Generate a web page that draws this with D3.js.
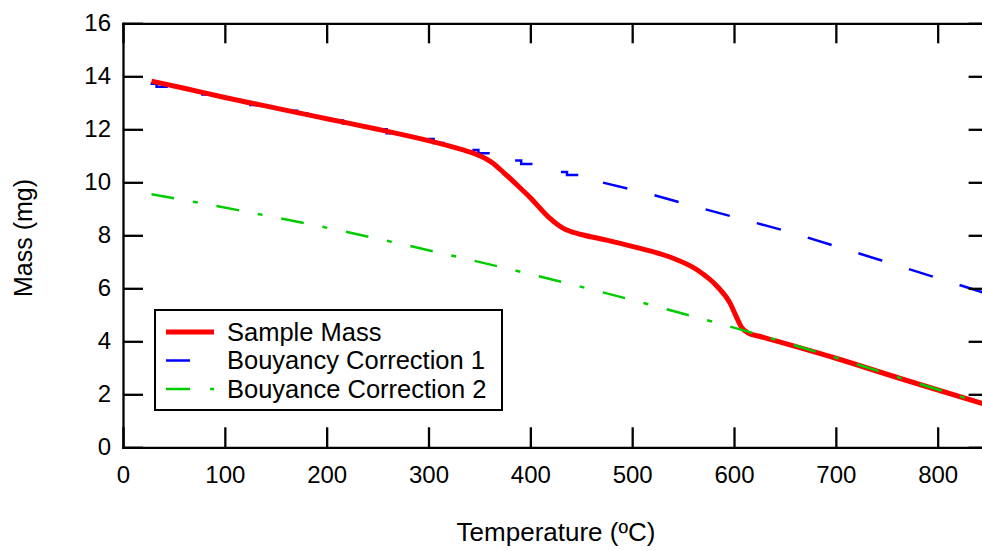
<!DOCTYPE html>
<html lang="en">
<head>
    <meta charset="UTF-8">
    <title>Mass vs Temperature</title>
    <script src="https://d3js.org/d3.v7.min.js"></script>
    <style>
        body {margin: 0; background: white;}
        text {font-family: "Liberation Sans", Arial, sans-serif;}
    </style>
</head>
<body>
<script>
    const width = 982;
    const height = 551;

    // data: [temperature (C), mass (mg)]
    const sampleMass = [
        [28, 13.82], [60, 13.55], [100, 13.2], [150, 12.8], [200, 12.4], [250, 12.0],
        [300, 11.57], [334, 11.22], [344, 11.1], [352, 10.97], [361, 10.78], [374, 10.36],
        [387, 9.9], [400, 9.42], [419, 8.65], [432, 8.27], [450, 8.03], [475, 7.82],
        [501, 7.57], [537, 7.18], [564, 6.69], [584, 6.05], [596, 5.45], [602, 4.95],
        [607, 4.55], [614, 4.31], [625, 4.19], [700, 3.36], [768, 2.54], [845, 1.64]
    ];
    // correction 1 is quantised at low temperature: [temperature, level before, level after]
    const blueSteps = [
        [33, 13.72, 13.61], [78, 13.40, 13.31], [125, 13.03, 12.92], [171, 12.70, 12.60],
        [216, 12.33, 12.22], [259, 12.0, 11.85], [305, 11.63, 11.48], [349, 11.22, 11.10],
        [391, 10.82, 10.69], [436, 10.39, 10.28]
    ];
    const blueSmooth = [
        [470, 10.0], [520, 9.53], [570, 9.0], [655, 8.12], [745, 7.05], [845, 5.84]
    ];
    const correction2 = [
        [28, 9.55], [113, 8.95], [218, 8.14], [303, 7.41], [408, 6.46], [557, 4.97],
        [625, 4.24], [700, 3.38], [768, 2.56], [845, 1.65]
    ];

    const xTicks = [0, 100, 200, 300, 400, 500, 600, 700, 800];
    const yTicks = [0, 2, 4, 6, 8, 10, 12, 14, 16];
    const legendNames = ["Sample Mass", "Bouyancy Correction 1", "Bouyance Correction 2"];

    const x = d3.scaleLinear().domain([0, 850]).range([123, 988.6]);
    const y = d3.scaleLinear().domain([0, 16]).range([447.3, 23.3]);

    const svg = d3.select("body").append("svg")
            .attr("width", width).attr("height", height);

    svg.append("defs").append("clipPath").attr("id", "plot")
            .append("rect")
            .attr("x", x(0)).attr("y", y(16))
            .attr("width", x(850) - x(0)).attr("height", y(0) - y(16));

    // each step: short flat run, the drop, a flat run
    const correction1 = [];
    blueSteps.forEach(d => {
        correction1.push([d[0] - 6, d[1]], [d[0], d[1]], [d[0], d[2]], [d[0] + 11, d[2]]);
    });
    blueSmooth.forEach(d => correction1.push(d));

    // dash pattern so that every step sits inside a dash, then regular dashes
    const px = correction1.map(d => [x(d[0]), y(d[1])]);
    const cum = [0];
    for (let i = 1; i < px.length; i++) {
        cum.push(cum[i - 1] + Math.hypot(px[i][0] - px[i - 1][0], px[i][1] - px[i - 1][1]));
    }
    const dashes = [];
    blueSteps.forEach((d, k) => {
        const s = cum[4 * k], e = cum[4 * k + 3];
        const next = k < blueSteps.length - 1 ? cum[4 * k + 4] : e + 26;
        dashes.push(e - s, next - e);
    });
    let used = d3.sum(dashes);
    while (used < cum[cum.length - 1] + 60) {
        dashes.push(25, 28);
        used += 53;
    }

    const line = d3.line().x(d => x(d[0])).y(d => y(d[1]));
    const smooth = d3.line().x(d => x(d[0])).y(d => y(d[1])).curve(d3.curveMonotoneX);

    const plot = svg.append("g").attr("clip-path", "url(#plot)");

    plot.append("path").datum(correction1)
            .attr("d", line)
            .style("fill", "none")
            .style("stroke", "#0000ff")
            .style("stroke-width", 2.5)
            .style("stroke-dasharray", dashes.map(v => v.toFixed(2)).join(","));

    plot.append("path").datum(sampleMass)
            .attr("d", smooth)
            .style("fill", "none")
            .style("stroke", "#ff0000")
            .style("stroke-width", 5);

    plot.append("path").datum(correction2)
            .attr("d", smooth)
            .style("fill", "none")
            .style("stroke", "#00cc00")
            .style("stroke-width", 2.5)
            .style("stroke-dasharray", "23,19,5,19");

    // axes, ticks pointing inward on all four sides
    function styleAxis(g) {
        g.selectAll("path, line").style("stroke", "black").style("stroke-width", 2.3);
        g.selectAll("text").style("font-size", "24px").style("fill", "black");
    }

    svg.append("g")
            .attr("transform", `translate(0,${y(0)})`)
            .call(d3.axisBottom(x).tickValues(xTicks).tickSizeInner(-20).tickSizeOuter(0).tickPadding(19))
            .call(styleAxis);

    svg.append("g")
            .attr("transform", `translate(0,${y(16)})`)
            .call(d3.axisTop(x).tickValues(xTicks).tickSizeInner(-20).tickSizeOuter(0).tickFormat(""))
            .call(styleAxis);

    svg.append("g")
            .attr("transform", `translate(${x(0)},0)`)
            .call(d3.axisLeft(y).tickValues(yTicks).tickSizeInner(-20).tickSizeOuter(0).tickPadding(12))
            .call(styleAxis);

    svg.append("g")
            .attr("transform", `translate(${x(850)},0)`)
            .call(d3.axisRight(y).tickValues(yTicks).tickSizeInner(-20).tickSizeOuter(0).tickFormat(""))
            .call(styleAxis);

    svg.selectAll(".domain").attr("stroke-linecap", "square");

    // axis titles
    svg.append("text")
            .attr("x", 556).attr("y", 541)
            .attr("text-anchor", "middle")
            .style("font-size", "26px")
            .text("Temperature (ºC)");

    svg.append("text")
            .attr("transform", "translate(32,238) rotate(-90)")
            .attr("text-anchor", "middle")
            .style("font-size", "25px")
            .text("Mass (mg)");

    // legend
    const legend = svg.append("g");
    legend.append("rect")
            .attr("x", 155).attr("y", 310)
            .attr("width", 347).attr("height", 100)
            .style("fill", "white")
            .style("stroke", "black")
            .style("stroke-width", 2);

    const legendStyles = [
        {color: "#ff0000", width: 5, dash: null},
        {color: "#0000ff", width: 2.5, dash: "24,30"},
        {color: "#00cc00", width: 2.5, dash: "24,20,4,20"}
    ];

    legendNames.forEach((name, i) => {
        const ly = 332 + i * 28.5;
        legend.append("line")
                .attr("x1", 166).attr("x2", 214)
                .attr("y1", ly).attr("y2", ly)
                .style("stroke", legendStyles[i].color)
                .style("stroke-width", legendStyles[i].width)
                .style("stroke-dasharray", legendStyles[i].dash);
        legend.append("text")
                .attr("x", 227).attr("y", ly + 8.5)
                .style("font-size", "25.5px")
                .text(name);
    });
</script>
</body>
</html>
